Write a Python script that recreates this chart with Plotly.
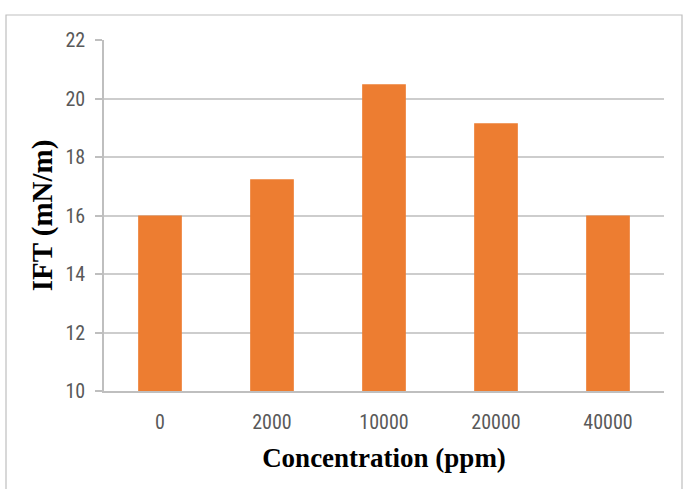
import plotly.graph_objects as go

categories = ["0", "2000", "10000", "20000", "40000"]
ift_values = [16.0, 17.24, 20.49, 19.15, 16.0]
y_ticks = [10, 12, 14, 16, 18, 20, 22]

W, H = 689, 489
L, R, T, B = 104, 25, 40, 98
pw, ph = W - L - R, H - T - B

fig = go.Figure()
fig.add_trace(go.Bar(
    x=categories, y=ift_values,
    marker=dict(color="#ED7D31", line=dict(width=0)),
    width=0.39,
))

tick_font = dict(family="Liberation Sans Narrow, Roboto Condensed, Arial Narrow, sans-serif",
                 size=20, color="#595959")
xtitle_font = dict(family="Liberation Serif, Times New Roman, serif", size=27, color="#000000")
ytitle_font = dict(family="Liberation Serif, Times New Roman, serif", size=29, color="#000000")

fig.update_layout(
    width=W, height=H,
    margin=dict(l=L, r=R, t=T, b=B),
    paper_bgcolor="white", plot_bgcolor="white",
    showlegend=False,
    xaxis=dict(
        type="category",
        tickfont=tick_font,
        showgrid=False,
        showline=True, linecolor="#BFBFBF", linewidth=1.5,
        ticks="", ticklabelstandoff=12,
        title=dict(text="<b>Concentration (ppm)</b>", font=xtitle_font, standoff=15),
    ),
    yaxis=dict(
        range=[10, 22],
        tickvals=y_ticks,
        tickfont=tick_font,
        showgrid=True, gridcolor="#CDCDCD", gridwidth=1.5,
        showline=True, linecolor="#BFBFBF", linewidth=1.5,
        ticks="outside", ticklen=7, tickcolor="#BFBFBF", tickwidth=1.5,
        ticklabelstandoff=6,
        zeroline=False,
        title=dict(text="<b>IFT (mN/m)</b>", font=ytitle_font, standoff=4),
    ),
)

fig.add_shape(
    type="rect", xref="paper", yref="paper",
    x0=(6 - L) / pw, x1=(682 - L) / pw,
    y0=(T + ph - 500) / ph, y1=(T + ph - 15) / ph,
    line=dict(color="#BFBFBF", width=1.2), fillcolor="rgba(0,0,0,0)",
    layer="below",
)

fig.write_html("out.html")
